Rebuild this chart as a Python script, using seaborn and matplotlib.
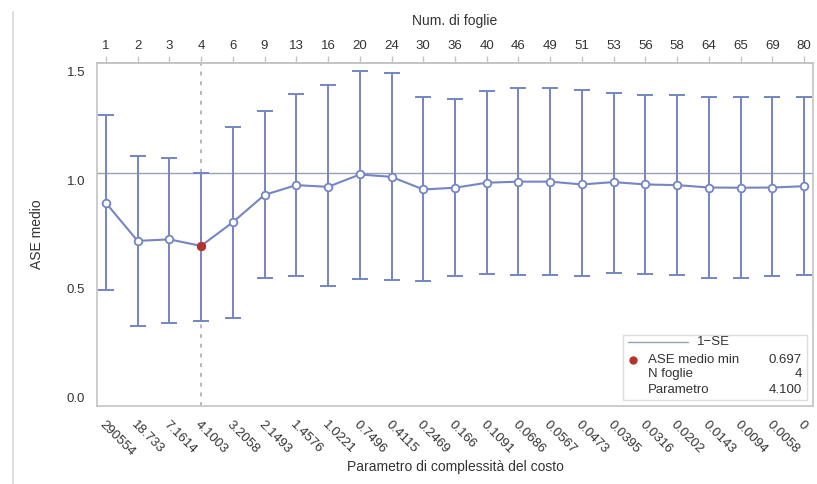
import matplotlib
matplotlib.use("Agg")
import matplotlib.pyplot as plt
import matplotlib.lines as mlines
import matplotlib.patches as mpatches
import numpy as np
import pandas as pd
import seaborn as sns

# values
num_foglie = ["1", "2", "3", "4", "6", "9", "13", "16", "20", "24", "30", "36",
              "40", "46", "49", "51", "53", "56", "58", "64", "65", "69", "80"]
parametro = ["290554", "18.733", "7.1614", "4.1003", "3.2058", "2.1493", "1.4576",
             "1.0221", "0.7496", "0.4115", "0.2469", "0.166", "0.1091", "0.0686",
             "0.0567", "0.0473", "0.0395", "0.0316", "0.0202", "0.0143", "0.0094",
             "0.0058", "0"]
ase_medio = [0.895, 0.720, 0.727, 0.697, 0.806, 0.932, 0.977, 0.969, 1.026, 1.015,
             0.957, 0.965, 0.988, 0.993, 0.993, 0.980, 0.991, 0.980, 0.977, 0.966,
             0.965, 0.966, 0.972]
ase_upper = [1.300, 1.110, 1.100, 1.035, 1.245, 1.318, 1.395, 1.438, 1.504, 1.495,
             1.381, 1.373, 1.410, 1.425, 1.425, 1.415, 1.402, 1.392, 1.392, 1.381,
             1.381, 1.381, 1.381]
ase_lower = [0.493, 0.329, 0.344, 0.353, 0.366, 0.547, 0.558, 0.513, 0.545, 0.538,
             0.533, 0.557, 0.568, 0.565, 0.565, 0.557, 0.574, 0.568, 0.565, 0.548,
             0.548, 0.557, 0.565]
one_se = 1.035
min_idx = 3
min_label = ["ASE medio min", "N foglie", "Parametro"]
min_value = ["0.697", "4", "4.100"]

df = pd.DataFrame({"pos": np.arange(len(num_foglie)), "ase": ase_medio,
                   "lo": ase_lower, "hi": ase_upper})

sns.set_theme(style="white")
plt.rcParams["font.family"] = ["Liberation Sans", "DejaVu Sans"]

blue = "#7585c4"
grey = "#c4c4c4"
txt = "#333333"

fig = plt.figure(figsize=(8.17, 4.84), dpi=100)
ax = fig.add_axes([0.1187, 0.161, 0.8764, 0.709])

# error bars
ax.errorbar(df["pos"], df["ase"],
            yerr=[df["ase"] - df["lo"], df["hi"] - df["ase"]],
            fmt="none", ecolor=blue, elinewidth=1.4, capsize=6, capthick=1.4,
            zorder=2)
sns.lineplot(data=df, x="pos", y="ase", ax=ax, color=blue, linewidth=1.5,
             marker="o", markersize=5.5, markerfacecolor="white",
             markeredgecolor=blue, markeredgewidth=1.3, zorder=3)
ax.plot(df["pos"][min_idx], df["ase"][min_idx], "o", color="#b5322b",
        markersize=5.5, zorder=4)

ax.axhline(one_se, color="#9aa0b4", linewidth=1.0, zorder=1)
ax.axvline(min_idx, color="#b8b8b8", linewidth=1.4, linestyle=(0, (2, 3)), zorder=1)

ax.set_xlim(-0.28, 22.28)
ax.set_ylim(-0.041, 1.54)
ax.set_yticks([0.0, 0.5, 1.0, 1.5])
ax.set_yticklabels(["0.0", "0.5", "1.0", "1.5"])
ax.set_xticks(df["pos"])
ax.set_xticklabels(parametro, rotation=-45, ha="left", va="top",
                   rotation_mode="anchor")
ax.set_xlabel("Parametro di complessità del costo", fontsize=10, color=txt,
              labelpad=1)
ax.set_ylabel("ASE medio", fontsize=10, color=txt, labelpad=16)

ax.tick_params(axis="both", labelsize=9.5, colors=txt, length=5, width=1,
               color=grey, direction="out")
ax.tick_params(axis="x", pad=4)

top = ax.secondary_xaxis("top")
top.set_xticks(df["pos"])
top.set_xticklabels(num_foglie)
top.tick_params(labelsize=9.5, colors=txt, length=5, width=1, color=grey, pad=3)
top.set_xlabel("Num. di foglie", fontsize=10, color=txt, labelpad=11)
top.spines["top"].set_color(grey)

for s in ax.spines.values():
    s.set_color(grey)
    s.set_linewidth(1.2)

# legend box in the lower right
box = mpatches.Rectangle((0.7346, 0.0175), 0.257, 0.1893, transform=ax.transAxes,
                         facecolor="white", edgecolor="#dddddd", linewidth=1.0,
                         zorder=5)
ax.add_patch(box)
ax.add_line(mlines.Line2D([0.7416, 0.8254], [0.1864, 0.1864], transform=ax.transAxes,
                          color="#9aa0b4", linewidth=1.0, zorder=6))
ax.text(0.838, 0.1864, "1\u2212SE", transform=ax.transAxes, fontsize=9.5,
        color=txt, va="center", ha="left", zorder=6)
ax.plot([0.7486], [0.134], "o", color="#b5322b", markersize=5,
        transform=ax.transAxes, zorder=6)
rows_y = [0.134, 0.0932, 0.0466]
for lab, val, yy in zip(min_label, min_value, rows_y):
    ax.text(0.7696, yy, lab, transform=ax.transAxes, fontsize=9.5, color=txt,
            va="center", ha="left", zorder=6)
    ax.text(0.9846, yy, val, transform=ax.transAxes, fontsize=9.5, color=txt,
            va="center", ha="right", zorder=6)

# thin frame line at the left edge of the picture
fig.add_artist(mlines.Line2D([0.0155, 0.0155], [0.0, 0.975], transform=fig.transFigure,
                             color="#d8d8d8", linewidth=1.2))

fig.savefig("out.png", dpi=100)
